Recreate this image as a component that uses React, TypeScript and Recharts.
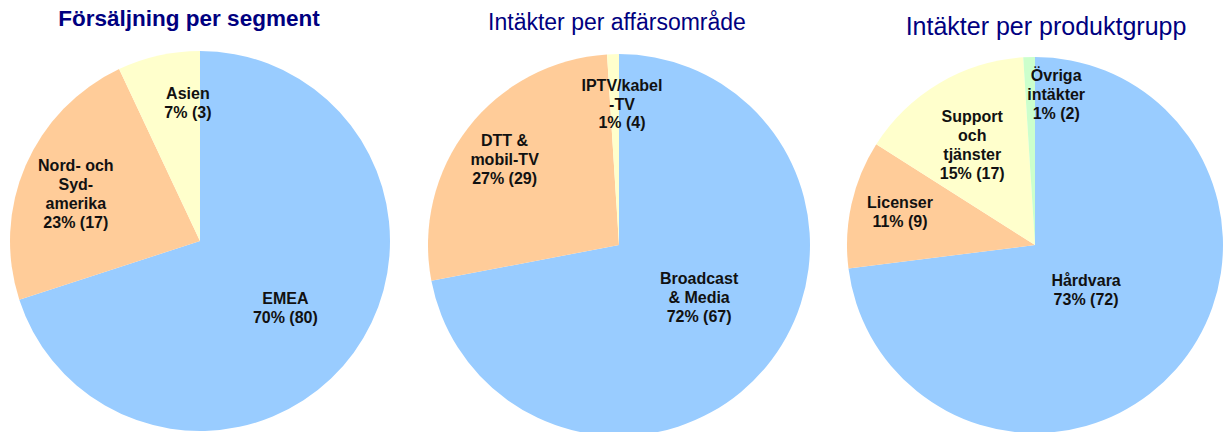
import { PieChart, Pie, Cell } from "recharts";

// Försäljning per segment
const segmentNames = [["EMEA"], ["Nord- och", "Syd-", "amerika"], ["Asien"]];
const segmentShare = [70, 23, 7];
const segmentGrowth = [80, 17, 3];

// Intäkter per affärsområde
const areaNames = [["Broadcast", "& Media"], ["DTT &", "mobil-TV"], ["IPTV/kabel", "-TV"]];
const areaShare = [72, 27, 1];
const areaGrowth = [67, 29, 4];

// Intäkter per produktgrupp
const productNames = [["Hårdvara"], ["Licenser"], ["Support", "och", "tjänster"], ["Övriga", "intäkter"]];
const productShare = [73, 11, 15, 1];
const productGrowth = [72, 9, 17, 2];

const BLUE = "#99CCFF";
const ORANGE = "#FFCC99";
const YELLOW = "#FFFFCC";
const GREEN = "#CCFFCC";

const buildRows = (names: string[][], share: number[], growth: number[]) =>
  names.map((lines, i) => ({ lines, value: share[i], growth: growth[i] }));

// label placement: [angle in degrees, fraction of radius]
const makeLabel = (place: number[][]) => (props: any) => {
  const { cx, cy, outerRadius, index, payload } = props;
  const [angle, frac] = place[index];
  const rad = (angle * Math.PI) / 180;
  const x = cx + Math.cos(rad) * outerRadius * frac;
  const y = cy - Math.sin(rad) * outerRadius * frac;
  const row = payload.payload ?? payload;
  const lines: string[] = [...row.lines, `${row.value}% (${row.growth})`];
  const lh = 18.8;
  const top = y - ((lines.length - 1) * lh) / 2;
  return (
    <text
      key={`l-${index}`}
      x={x}
      y={top}
      textAnchor="middle"
      dominantBaseline="central"
      fontFamily="'Liberation Sans', Arial, sans-serif"
      fontWeight="bold"
      fontSize={16}
      fill="#111"
    >
      {lines.map((t, i) => (
        <tspan key={i} x={x} y={top + i * lh}>
          {t}
        </tspan>
      ))}
    </text>
  );
};

const titleStyle = (left: number, top: number, size: number, bold: boolean) => ({
  position: "absolute" as const,
  left: left - 200,
  width: 400,
  top,
  textAlign: "center" as const,
  fontFamily: "'Liberation Sans', Arial, sans-serif",
  fontSize: size,
  fontWeight: bold ? "bold" : "normal",
  color: "#000080",
  lineHeight: 1,
  whiteSpace: "nowrap" as const,
});

export default function App() {
  const pies = [
    {
      rows: buildRows(segmentNames, segmentShare, segmentGrowth),
      colors: [BLUE, ORANGE, YELLOW],
      cx: 200,
      cy: 241,
      r: 190,
      place: [
        [-38, 0.57],
        [159, 0.7],
        [95, 0.73],
      ],
    },
    {
      rows: buildRows(areaNames, areaShare, areaGrowth),
      colors: [BLUE, ORANGE, YELLOW],
      cx: 619,
      cy: 245,
      r: 191,
      place: [
        [-33, 0.5],
        [143, 0.75],
        [88.8, 0.74],
      ],
    },
    {
      rows: buildRows(productNames, productShare, productGrowth),
      colors: [BLUE, ORANGE, YELLOW, GREEN],
      cx: 1035,
      cy: 245,
      r: 188,
      place: [
        [-41, 0.36],
        [166, 0.74],
        [122, 0.63],
        [82, 0.81],
      ],
    },
  ];

  return (
    <div style={{ position: "absolute", left: 0, top: 0, width: 1225, height: 432, background: "#fff", overflow: "hidden" }}>
      <PieChart width={1225} height={432} margin={{ top: 0, right: 0, bottom: 0, left: 0 }}>
        {pies.map((p, k) => (
          <Pie
            key={k}
            data={p.rows}
            dataKey="value"
            cx={p.cx}
            cy={p.cy}
            outerRadius={p.r}
            startAngle={90}
            endAngle={-270}
            stroke="none"
            labelLine={false}
            label={makeLabel(p.place)}
            isAnimationActive={false}
          >
            {p.rows.map((_, i) => (
              <Cell key={i} fill={p.colors[i]} />
            ))}
          </Pie>
        ))}
      </PieChart>
      <div style={titleStyle(189, 8, 22.5, true)}>Försäljning per segment</div>
      <div style={titleStyle(617, 11, 23, false)}>Intäkter per affärsområde</div>
      <div style={titleStyle(1046, 14, 25, false)}>Intäkter per produktgrupp</div>
    </div>
  );
}
